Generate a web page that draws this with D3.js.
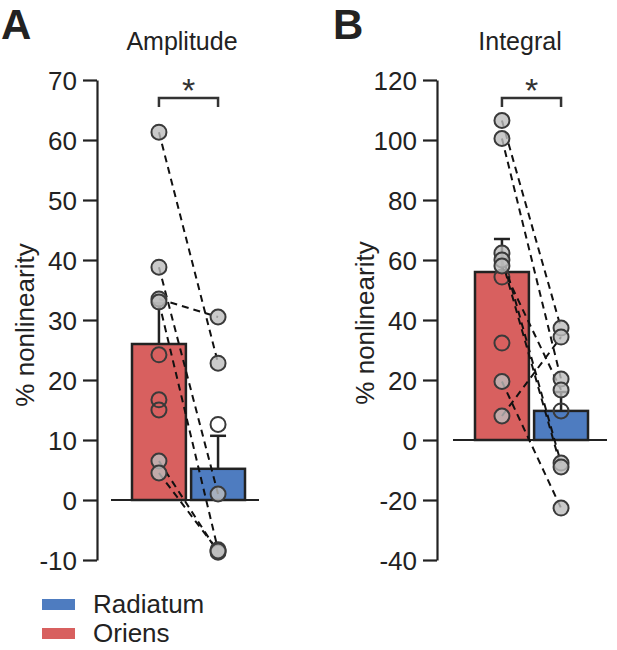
<!DOCTYPE html>
<html><head><meta charset="utf-8">
<script src="https://cdn.jsdelivr.net/npm/d3@7"></script>
<style>body{margin:0;background:#fff}svg{display:block;font-family:"Liberation Sans",Arial,sans-serif}</style>
</head><body><svg id="c" width="617" height="650"></svg>
<script>
const categories = ["Oriens", "Radiatum"];
const colors = {Oriens: "#d8605f", Radiatum: "#4e7cc0"};
// Panel A: Amplitude
const ampMeans = [26.0, 5.2];
const ampErr = [32.8, 10.7];
const ampPairsO = [61.3, 38.8, 33.5, 33.0, 6.5, 4.5];
const ampPairsR = [22.8, 1.0, 30.5, -8.3, -8.7, -8.5];
const ampOpenO = [24.2, 16.7, 15.0];
const ampOpenR = [12.6];
const ampTicks = [-10, 0, 10, 20, 30, 40, 50, 60, 70];
// Panel B: Integral
const intMeans = [56.0, 9.7];
const intErr = [67.0, 16.0];
const intPairsO = [106.5, 100.5, 62.3, 60.0, 58.0, 19.5, 8.0];
const intPairsR = [37.3, 20.3, -7.7, -9.0, 16.7, -22.7, 34.3];
const intOpenO = [54.3, 32.3];
const intOpenR = [9.7];
const intTicks = [-40, -20, 0, 20, 40, 60, 80, 100, 120];

const svg = d3.select("#c");
const FONT = '"Liberation Sans",Arial,sans-serif';

function panel(cfg) {
  const g = svg.append("g");
  const y = d3.scaleLinear().domain(cfg.domain).range([cfg.yBottom, cfg.yTop]);
  const x = d3.scaleBand().domain(categories).range(cfg.xRange).paddingInner(0.088);
  const bw = x.bandwidth();
  const cx = c => x(c) + bw / 2;

  // axis
  const ax = g.append("g").attr("transform", `translate(${cfg.axisX},0)`)
    .call(d3.axisLeft(y).tickValues(cfg.ticks).tickFormat(d => String(d))
      .tickSize(14).tickSizeOuter(0).tickPadding(6));
  ax.select(".domain").attr("stroke", "#222").attr("stroke-width", 2.2);
  ax.selectAll(".tick line").attr("stroke", "#222").attr("stroke-width", 2.2);
  ax.selectAll(".tick text").attr("font-size", 26).attr("fill", "#222")
    .attr("font-family", FONT).attr("dy", "0.35em");

  // axis label
  g.append("text").attr("transform", `translate(${cfg.labelX},${cfg.labelY}) rotate(-90)`)
    .attr("text-anchor", "middle").attr("font-size", 26).attr("fill", "#222").text("% nonlinearity");
  // title
  g.append("text").attr("x", cfg.titleX).attr("y", 50).attr("text-anchor", "middle")
    .attr("font-size", 25).attr("fill", "#222").text(cfg.title);
  // panel letter
  g.append("text").attr("x", cfg.letterX).attr("y", 39).attr("font-size", 42)
    .attr("font-weight", "bold").attr("fill", "#222").text(cfg.letter);

  // bars
  g.selectAll("rect.bar").data(categories).join("rect")
    .attr("x", c => x(c)).attr("width", bw)
    .attr("y", (c, i) => y(cfg.means[i]))
    .attr("height", (c, i) => y(0) - y(cfg.means[i]))
    .attr("fill", c => colors[c]).attr("stroke", "#222").attr("stroke-width", 2.5);

  // error bars
  categories.forEach((c, i) => {
    g.append("line").attr("x1", cx(c)).attr("x2", cx(c))
      .attr("y1", y(cfg.means[i])).attr("y2", y(cfg.err[i]))
      .attr("stroke", "#222").attr("stroke-width", 2.5);
    g.append("line").attr("x1", cx(c) - 8).attr("x2", cx(c) + 8)
      .attr("y1", y(cfg.err[i])).attr("y2", y(cfg.err[i]))
      .attr("stroke", "#222").attr("stroke-width", 2.5);
  });

  // baseline
  g.append("line").attr("x1", cfg.baseX[0]).attr("x2", cfg.baseX[1])
    .attr("y1", y(0)).attr("y2", y(0)).attr("stroke", "#222").attr("stroke-width", 2);

  // open circles
  const open = [].concat(cfg.openO.map(v => ["Oriens", v]), cfg.openR.map(v => ["Radiatum", v]));
  g.selectAll("circle.open").data(open).join("circle")
    .attr("cx", d => cx(d[0])).attr("cy", d => y(d[1])).attr("r", 7.5)
    .attr("fill", "none")
    .attr("stroke", "#3a3a3a").attr("stroke-width", 2);

  // pair lines
  const pairs = cfg.pO.map((v, i) => [v, cfg.pR[i]]);
  g.selectAll("line.pair").data(pairs).join("line")
    .attr("x1", cx("Oriens")).attr("x2", cx("Radiatum"))
    .attr("y1", d => y(d[0])).attr("y2", d => y(d[1]))
    .attr("stroke", "#111").attr("stroke-width", 2).attr("stroke-dasharray", "7,5");

  // filled circles
  const filled = [].concat(cfg.pO.map(v => ["Oriens", v]), cfg.pR.map(v => ["Radiatum", v]));
  g.selectAll("circle.filled").data(filled).join("circle")
    .attr("cx", d => cx(d[0])).attr("cy", d => y(d[1])).attr("r", 7.5)
    .attr("fill", "#bdbdbd").attr("fill-opacity", 0.8)
    .attr("stroke", "#3a3a3a").attr("stroke-width", 2);

  // significance bracket
  const by = 98;
  g.append("path")
    .attr("d", `M${cx("Oriens")},${by + 9}V${by}H${cx("Radiatum")}V${by + 9}`)
    .attr("fill", "none").attr("stroke", "#333").attr("stroke-width", 2.5);
  g.append("text").attr("x", (cx("Oriens") + cx("Radiatum")) / 2).attr("y", by + 4)
    .attr("text-anchor", "middle").attr("font-size", 34).attr("fill", "#333").text("*");
}

panel({domain: [-10, 70], yTop: 80, yBottom: 560, xRange: [132, 245], axisX: 97,
  ticks: ampTicks, labelX: 34, labelY: 325, titleX: 182, title: "Amplitude", letterX: 1, letter: "A",
  means: ampMeans, err: ampErr, pO: ampPairsO, pR: ampPairsR, openO: ampOpenO, openR: ampOpenR,
  baseX: [111, 259]});
panel({domain: [-40, 120], yTop: 80, yBottom: 560, xRange: [475, 588], axisX: 437,
  ticks: intTicks, labelX: 374, labelY: 323, titleX: 520, title: "Integral", letterX: 333, letter: "B",
  means: intMeans, err: intErr, pO: intPairsO, pR: intPairsR, openO: intOpenO, openR: intOpenR,
  baseX: [453, 607]});

// legend
const legend = svg.append("g");
categories.slice().reverse().forEach((c, i) => {
  legend.append("rect").attr("x", 42).attr("y", 599 + i * 29).attr("width", 33).attr("height", 11)
    .attr("fill", colors[c]);
  legend.append("text").attr("x", 93).attr("y", 613 + i * 29).attr("font-size", 26)
    .attr("fill", "#222").text(c);
});
</script></body></html>
